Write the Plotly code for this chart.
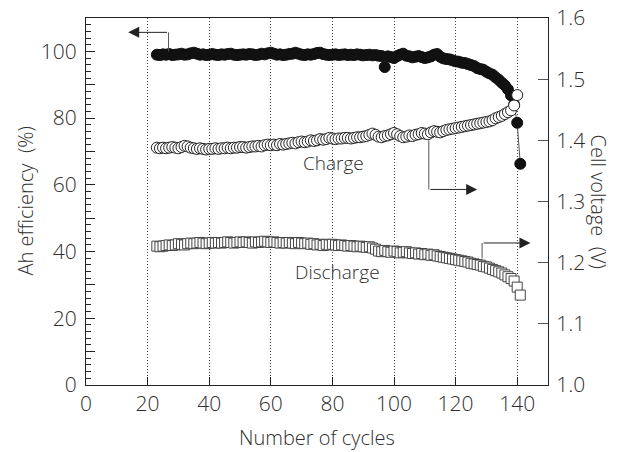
import plotly.graph_objects as go

cycles = list(range(23, 142))

ah_efficiency = [
    99.0, 98.9, 99.1, 99.0, 99.2, 98.9, 99.0, 99.1, 99.3, 99.0,
    99.1, 99.4, 99.6, 99.3, 99.0, 99.1, 98.9, 99.0, 99.2, 99.0,
    98.9, 99.1, 99.0, 99.2, 99.3, 99.0, 98.9, 99.0, 99.1, 99.0,
    99.2, 99.1, 98.9, 99.0, 99.3, 99.1, 99.4, 99.6, 99.3, 99.0,
    99.1, 98.9, 99.0, 99.2, 99.3, 99.6, 99.3, 99.0, 98.9, 99.1,
    99.0, 99.2, 99.5, 99.6, 99.2, 99.0, 98.9, 99.0, 99.1, 98.9,
    99.0, 99.1, 98.9, 99.0, 98.9, 99.1, 99.0, 98.8, 98.9, 99.0,
    98.8, 98.9, 98.7, 98.6, 95.3, 98.5, 98.3, 98.0, 98.6, 99.0,
    99.3, 98.7, 98.5, 98.2, 98.4, 98.6, 98.3, 98.0, 98.2, 98.5,
    99.0, 99.2, 98.4, 97.9, 97.7, 97.6, 97.3, 97.0, 96.9, 96.6,
    96.5, 96.2, 95.9, 95.6, 95.0, 94.7, 94.5, 93.9, 93.4, 93.0,
    92.2, 91.5, 90.6, 89.8, 88.6, 86.8, 84.0, 78.6, 66.3,
]

charge_voltage = [
    1.388, 1.387, 1.388, 1.387, 1.388, 1.389, 1.388, 1.387, 1.389, 1.391,
    1.390, 1.388, 1.387, 1.386, 1.387, 1.386, 1.385, 1.386, 1.386, 1.387,
    1.386, 1.387, 1.387, 1.388, 1.387, 1.388, 1.388, 1.389, 1.389, 1.388,
    1.389, 1.390, 1.390, 1.391, 1.390, 1.392, 1.393, 1.392, 1.393, 1.392,
    1.394, 1.393, 1.394, 1.395, 1.396, 1.395, 1.397, 1.398, 1.397, 1.398,
    1.400, 1.399, 1.400, 1.402, 1.401, 1.402, 1.404, 1.403, 1.402, 1.403,
    1.403, 1.404, 1.404, 1.403, 1.404, 1.405, 1.405, 1.406, 1.407, 1.409,
    1.411, 1.409, 1.406, 1.405, 1.407, 1.408, 1.410, 1.412, 1.410, 1.407,
    1.405, 1.406, 1.408, 1.407, 1.409, 1.410, 1.412, 1.411, 1.410, 1.413,
    1.415, 1.414, 1.413, 1.415, 1.417, 1.418, 1.419, 1.420, 1.421, 1.422,
    1.423, 1.424, 1.425, 1.426, 1.427, 1.428, 1.429, 1.430, 1.431, 1.433,
    1.436, 1.438, 1.440, 1.443, 1.446, 1.449, 1.457, 1.474,
]

discharge_voltage = [
    1.227, 1.226, 1.227, 1.228, 1.229, 1.228, 1.229, 1.231, 1.230, 1.229,
    1.231, 1.232, 1.231, 1.232, 1.233, 1.232, 1.231, 1.232, 1.233, 1.232,
    1.233, 1.232, 1.233, 1.234, 1.233, 1.232, 1.233, 1.234, 1.233, 1.234,
    1.233, 1.232, 1.234, 1.233, 1.234, 1.235, 1.234, 1.233, 1.234, 1.233,
    1.232, 1.233, 1.232, 1.233, 1.232, 1.231, 1.233, 1.232, 1.231, 1.232,
    1.230, 1.231, 1.229, 1.230, 1.228, 1.230, 1.229, 1.230, 1.229, 1.228,
    1.229, 1.228, 1.227, 1.228, 1.227, 1.226, 1.227, 1.226, 1.225, 1.226,
    1.224, 1.222, 1.219, 1.218, 1.220, 1.218, 1.217, 1.219, 1.218, 1.216,
    1.217, 1.218, 1.216, 1.215, 1.216, 1.214, 1.215, 1.213, 1.214, 1.212,
    1.213, 1.211, 1.210, 1.209, 1.208, 1.207, 1.206, 1.205, 1.204, 1.203,
    1.202, 1.201, 1.199, 1.198, 1.197, 1.196, 1.194, 1.193, 1.191, 1.189,
    1.187, 1.185, 1.183, 1.180, 1.177, 1.174, 1.170, 1.160, 1.147,
]

x_ticks = [0, 20, 40, 60, 80, 100, 120, 140]
left_ticks = [0, 10, 20, 30, 40, 50, 60, 70, 80, 90, 100, 110]
left_tick_text = ["0", "", "20", "", "40", "", "60", "", "80", "", "100", ""]
right_ticks = [1.0, 1.1, 1.2, 1.3, 1.4, 1.5, 1.6]
right_tick_text = ["1.0", "1.1", "1.2", "1.3", "1.4", "1.5", "1.6"]

FONT = "Open Sans"
TXT = "#2e2e2e"
font_tick = dict(family=FONT, size=21, color=TXT, weight=300)
font_title = dict(family=FONT, size=20, color=TXT, weight=300)
font_label = dict(family=FONT, size=19, color=TXT, weight=300)

fig = go.Figure()

fig.add_trace(go.Scatter(
    x=cycles, y=ah_efficiency, mode="lines+markers", yaxis="y",
    line=dict(color="#555555", width=1),
    marker=dict(symbol="circle", size=11, color="#111111",
                line=dict(color="#111111", width=1)),
    showlegend=False, cliponaxis=False))

fig.add_trace(go.Scatter(
    x=cycles, y=charge_voltage, mode="markers", yaxis="y2",
    marker=dict(symbol="circle", size=11, color="white",
                line=dict(color="#222222", width=1)),
    showlegend=False, cliponaxis=False))

fig.add_trace(go.Scatter(
    x=cycles, y=discharge_voltage, mode="markers", yaxis="y2",
    marker=dict(symbol="square", size=10, color="white",
                line=dict(color="#444444", width=1)),
    showlegend=False, cliponaxis=False))

# leader lines for arrows
line_style = dict(color="#555555", width=1)
fig.add_shape(type="line", xref="x", yref="y", x0=26.8, x1=26.8, y0=100, y1=105.7, line=line_style)
fig.add_shape(type="line", xref="x", yref="y2", x0=111.3, x1=111.3, y0=1.400, y1=1.3197, line=line_style)
fig.add_shape(type="line", xref="x", yref="y2", x0=128.6, x1=128.6, y0=1.207, y1=1.2322, line=line_style)

arrow_common = dict(showarrow=True, arrowhead=2, arrowsize=2.2, arrowwidth=1,
                    arrowcolor="#222222", text="", axref="x")
fig.add_annotation(x=13.7, y=105.7, ax=26.8, ay=105.7, xref="x", yref="y", ayref="y", **arrow_common)
fig.add_annotation(x=127.0, y=1.3197, ax=111.3, ay=1.3197, xref="x", yref="y2", ayref="y2", **arrow_common)
fig.add_annotation(x=144.3, y=1.2322, ax=128.6, ay=1.2322, xref="x", yref="y2", ayref="y2", **arrow_common)

fig.add_annotation(x=80.4, y=1.3625, xref="x", yref="y2", text="Charge", showarrow=False, font=font_label)
fig.add_annotation(x=81.5, y=1.1845, xref="x", yref="y2", text="Discharge", showarrow=False, font=font_label)

# axis titles
fig.add_annotation(x=0, y=0.5, xref="paper", yref="paper", xshift=-61, text="Ah efficiency  (%)",
                   textangle=-90, showarrow=False, xanchor="center", yanchor="middle", font=font_title)
fig.add_annotation(x=1, y=0.5, xref="paper", yref="paper", xshift=50, text="Cell voltage  (V)",
                   textangle=90, showarrow=False, xanchor="center", yanchor="middle", font=font_title)
fig.add_annotation(x=0.5, y=0, xref="paper", yref="paper", yshift=-52, text="Number of cycles",
                   showarrow=False, xanchor="center", yanchor="middle", font=font_title)

fig.update_layout(
    width=625, height=452,
    margin=dict(l=86, r=77, t=18, b=67, autoexpand=False),
    paper_bgcolor="white", plot_bgcolor="white",
    font=font_tick,
    xaxis=dict(range=[0, 150], tickmode="array", tickvals=x_ticks, automargin=False,
               ticks="inside", ticklen=8, tickcolor="#222222",
               showline=True, linecolor="#222222", linewidth=1, mirror=True,
               showgrid=True, gridcolor="#444444", griddash="1px,2px", gridwidth=1,
               zeroline=False, tickfont=font_tick),
    yaxis=dict(range=[0, 110], tickmode="array", tickvals=left_ticks, ticktext=left_tick_text,
               automargin=False, ticklabelstandoff=4,
               ticks="inside", ticklen=9, tickcolor="#222222",
               minor=dict(ticks="inside", ticklen=5, tickmode="linear", tick0=0, dtick=2,
                          tickcolor="#222222", showgrid=False),
               showline=True, linecolor="#222222", linewidth=1,
               showgrid=False, zeroline=False, tickfont=font_tick),
    yaxis2=dict(range=[1.0, 1.6], overlaying="y", side="right", tickmode="array",
                tickvals=right_ticks, ticktext=right_tick_text, automargin=False,
                ticklabelstandoff=3,
                ticks="inside", ticklen=10, tickcolor="#555555",
                showline=True, linecolor="#222222", linewidth=1,
                showgrid=False, zeroline=False, tickfont=font_tick),
)

fig.write_html("out.html", config={"displayModeBar": False},
               post_script="document.body.style.margin='0';")
